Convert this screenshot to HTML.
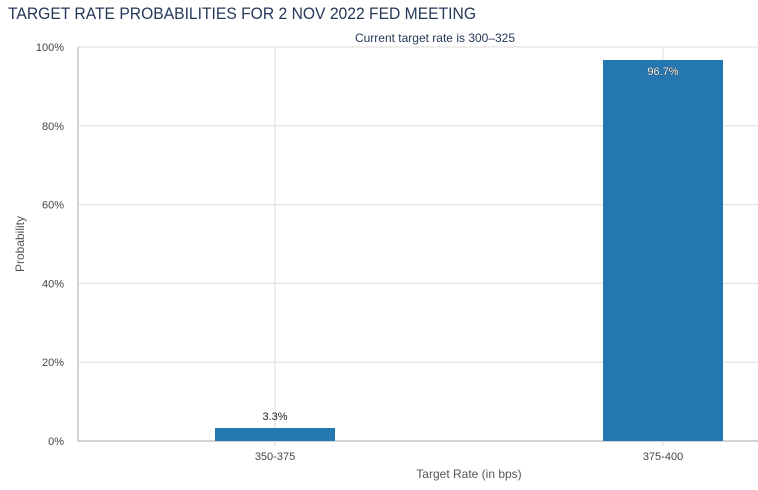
<!DOCTYPE html>
<html><head><meta charset="utf-8"><style>
body{margin:0;background:#fff;}
svg{display:block;font-family:"Liberation Sans Narrow","Liberation Sans",sans-serif;}
</style></head><body>
<svg id="chart" width="758" height="490">
<text x="8" y="19" font-size="17" fill="#253858" textLength="468" lengthAdjust="spacingAndGlyphs">TARGET RATE PROBABILITIES FOR 2 NOV 2022 FED MEETING</text>
<text x="435" y="42" font-size="12" fill="#253858" text-anchor="middle">Current target rate is 300–325</text>
<text transform="translate(24,244) rotate(-90)" font-size="12" fill="#555" text-anchor="middle">Probability</text>
<text x="469" y="478" font-size="12" fill="#555" text-anchor="middle">Target Rate (in bps)</text>
<g id="grid"></g><g id="bars"></g>
</svg>
<script>
const categories=["350-375","375-400"];
const values=[3.3,96.7];
const valueLabels=["3.3%","96.7%"];
const yTicks=[0,20,40,60,80,100];
const yTickLabels=["0%","20%","40%","60%","80%","100%"];
const NS="http://www.w3.org/2000/svg";
const x0=78,band=388,y0=441,yTop=47;
const y=v=>y0-(v/100)*(y0-yTop);
const xc=i=>x0+band*(i+0.5)+3;
const grid=document.getElementById('grid'),bars=document.getElementById('bars');
function mk(tag,attrs,parent,text){const e=document.createElementNS(NS,tag);for(const k in attrs)e.setAttribute(k,attrs[k]);if(text!==undefined)e.textContent=text;parent.appendChild(e);return e;}
yTicks.forEach((t,i)=>{
 const l=mk('line',{x1:x0,x2:758,y1:y(t),y2:y(t),stroke:t===0?'#aaa':'#ddd','stroke-width':1},grid);
 
 
 const tx=mk('text',{x:x0-14,y:y(t)+4,'font-size':11,fill:'#444','text-anchor':'end'},grid,yTickLabels[i]);
 
 
});
const ax=mk('line',{x1:x0,x2:x0,y1:yTop,y2:y0,stroke:'#aaa'},grid);


categories.forEach((c,i)=>{
 const g=mk('line',{x1:xc(i),x2:xc(i),y1:yTop,y2:y0+5,stroke:'#ddd'},grid);
 
 
 const tl=mk('text',{x:xc(i),y:y0+19,'font-size':11,fill:'#444','text-anchor':'middle'},grid,c);
 
 
 const top=y(values[i]);
 const r=mk('rect',{x:xc(i)-60,y:top,width:120,height:y0-top,fill:'#2577b1'},bars);
 
 
 const inside=(y0-top)>40;
 const lb=mk('text',{x:xc(i),y:inside?top+15:top-8,'font-size':11,fill:inside?'#fff':'#222','text-anchor':'middle',stroke:inside?'#222':'none','stroke-width':inside?0.6:0,'paint-order':'stroke'},bars,valueLabels[i]);
 
 
});
</script>
</body></html>
